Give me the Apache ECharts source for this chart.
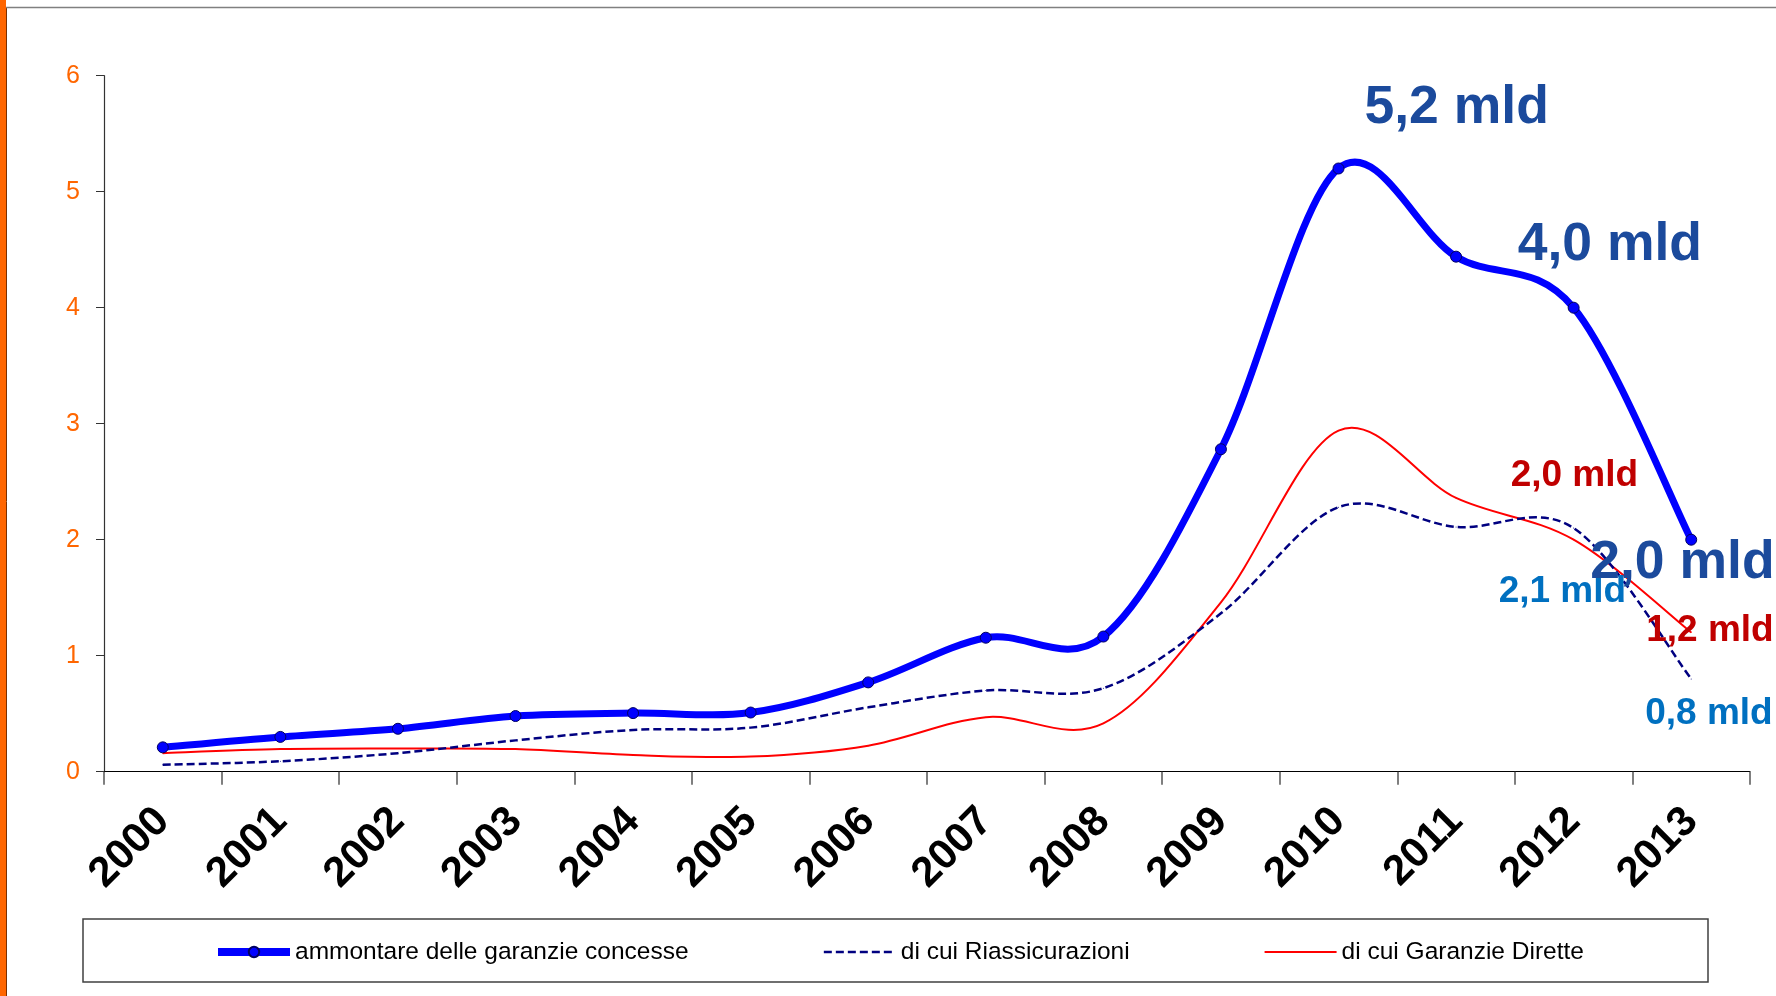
<!DOCTYPE html>
<html>
<head>
<meta charset="utf-8">
<title>Garanzie concesse 2000-2013</title>
<script src="https://cdn.jsdelivr.net/npm/echarts@6/dist/echarts.min.js"></script>
<style>
  html, body { margin: 0; padding: 0; background: #fff; }
  #chart { width: 1776px; height: 996px; }
</style>
</head>
<body>
<div id="chart"></div>
<script>
// Years on the category axis
const years = ['2000', '2001', '2002', '2003', '2004', '2005', '2006',
               '2007', '2008', '2009', '2010', '2011', '2012', '2013'];

// Amounts in billions of euro
const totalGuarantees = [0.21, 0.30, 0.37, 0.48, 0.505, 0.51, 0.77,
                         1.155, 1.165, 2.78, 5.2, 4.44, 4.0, 2.0];
const reinsurance     = [0.06, 0.09, 0.16, 0.27, 0.36, 0.38, 0.555,
                         0.70, 0.72, 1.365, 2.28, 2.11, 2.1, 0.8];
const directGuarantees = [0.16, 0.195, 0.2, 0.195, 0.144, 0.13, 0.224,
                          0.47, 0.417, 1.46, 2.94, 2.36, 2.0, 1.2];

const seriesNames = ['ammontare delle garanzie concesse',
                     'di cui Riassicurazioni',
                     'di cui Garanzie Dirette'];

const yTicks = [0, 1, 2, 3, 4, 5, 6];

const FONT = "'Liberation Sans', Arial, Helvetica, sans-serif";

// Value call-outs: which point gets a label, and how it is placed/styled
const callouts = {
  total:  [{ i: 10, dx: 26,  dy: -60, size: 53.5, color: '#1B4A9C' },
           { i: 12, dx: -56, dy: -62, size: 53.5, color: '#1B4A9C' },
           { i: 13, dx: -101, dy: 24, size: 53.5, color: '#1B4A9C' }],
  reins:  [{ i: 12, dx: -75, dy: 64,  size: 37, color: '#0070C0' },
           { i: 13, dx: -46, dy: 35,  size: 37, color: '#0070C0' }],
  direct: [{ i: 12, dx: -63, dy: -64, size: 37, color: '#C00000' },
           { i: 13, dx: -45, dy: -2,  size: 37, color: '#C00000' }]
};

const fmtMld = v => v.toFixed(1).replace('.', ',') + ' mld';

function withCallouts(values, list) {
  return values.map((v, idx) => {
    const c = list.find(o => o.i === idx);
    if (!c) return v;
    return {
      value: v,
      label: {
        show: true,
        position: 'inside',
        align: 'left',
        verticalAlign: 'middle',
        offset: [c.dx, c.dy],
        formatter: p => fmtMld(p.value),
        fontFamily: FONT,
        fontWeight: 'bold',
        fontSize: c.size,
        color: c.color
      }
    };
  });
}

// Smoothed curve through the points (cardinal spline, tangent = (next - prev) / 2),
// converted to pixel space with the chart's own axes.
function smoothCurveSeries(name, values, style, z) {
  return {
    name: name,
    type: 'custom',
    silent: true,
    z: z,
    clip: false,
    data: values.map((v, i) => [i, v]),
    encode: { x: 0, y: 1 },
    renderItem: function (params, api) {
      if (params.dataIndex !== 0) return null;
      const pts = values.map((v, i) => api.coord([i, v]));
      const k = 1 / 6;
      let d = 'M' + pts[0][0] + ',' + pts[0][1];
      for (let i = 0; i < pts.length - 1; i++) {
        const p0 = pts[Math.max(i - 1, 0)];
        const p1 = pts[i];
        const p2 = pts[i + 1];
        const p3 = pts[Math.min(i + 2, pts.length - 1)];
        const c1x = p1[0] + (p2[0] - p0[0]) * k;
        const c1y = p1[1] + (p2[1] - p0[1]) * k;
        const c2x = p2[0] - (p3[0] - p1[0]) * k;
        const c2y = p2[1] - (p3[1] - p1[1]) * k;
        d += ' C' + c1x + ',' + c1y + ' ' + c2x + ',' + c2y + ' ' + p2[0] + ',' + p2[1];
      }
      return {
        type: 'path',
        shape: { pathData: d },
        style: Object.assign({ fill: null }, style)
      };
    }
  };
}

const chart = echarts.init(document.getElementById('chart'), null, { renderer: 'canvas' });

chart.setOption({
  animation: false,
  backgroundColor: '#ffffff',
  grid: { left: 104, right: 26, top: 75.7, bottom: 224.3, containLabel: false },
  graphic: [
    // orange strip on the left edge
    { type: 'rect', shape: { x: 0, y: 0, width: 6, height: 996 },
      style: { fill: '#FF6600' }, silent: true },
    { type: 'line', shape: { x1: 6.5, y1: 7, x2: 6.5, y2: 996 },
      style: { stroke: '#7A3000', lineWidth: 1 }, silent: true },
    // thin rule at the top
    { type: 'line', shape: { x1: 6, y1: 7.5, x2: 1776, y2: 7.5 },
      style: { stroke: '#808080', lineWidth: 1.5 }, silent: true },
    // frame around the legend
    { type: 'rect', shape: { x: 83, y: 919, width: 1625, height: 63 },
      style: { fill: 'none', stroke: '#404040', lineWidth: 1.5 }, silent: true, z: -1 }
  ],
  legend: {
    left: 214,
    top: 939.5,
    padding: 0,
    itemWidth: 72,
    itemHeight: 13,
    itemGap: 134,
    textStyle: { fontFamily: FONT, fontSize: 24.5, color: '#000' },
    data: [
      { name: seriesNames[0], lineStyle: { width: 8 } },
      { name: seriesNames[1], itemStyle: { opacity: 0 }, lineStyle: { width: 2.5 } },
      { name: seriesNames[2], itemStyle: { opacity: 0 }, lineStyle: { width: 2 } }
    ]
  },
  xAxis: {
    type: 'category',
    data: years,
    boundaryGap: true,
    axisLine: { show: true, lineStyle: { color: '#000', width: 1.2 } },
    axisTick: { show: true, length: 13, lineStyle: { color: '#555', width: 1.5 } },
    axisLabel: {
      rotate: 45,
      margin: 43,
      interval: 0,
      fontFamily: FONT,
      fontWeight: 'bold',
      fontSize: 42,
      color: '#000'
    },
    splitLine: { show: false }
  },
  yAxis: {
    type: 'value',
    min: yTicks[0],
    max: yTicks[yTicks.length - 1],
    interval: 1,
    axisLine: { show: true, lineStyle: { color: '#333', width: 1.2 } },
    axisTick: { show: true, length: 8, lineStyle: { color: '#333' } },
    axisLabel: {
      margin: 24,
      fontFamily: FONT,
      fontSize: 25,
      color: '#FF6600'
    },
    splitLine: { show: false }
  },
  series: [
    // Point series: carry the legend entries, markers and value labels
    {
      name: seriesNames[0],
      type: 'line',
      z: 5,
      symbol: 'circle',
      symbolSize: 11,
      itemStyle: { color: '#0000FF', borderColor: '#000060', borderWidth: 1 },
      lineStyle: { color: '#0000FF', width: 0 },
      data: withCallouts(totalGuarantees, callouts.total)
    },
    {
      name: seriesNames[1],
      type: 'line',
      z: 4,
      symbol: 'circle',
      symbolSize: 1,
      itemStyle: { color: '#000080' },
      lineStyle: { color: '#000080', width: 0, type: [8, 4] },
      data: withCallouts(reinsurance, callouts.reins)
    },
    {
      name: seriesNames[2],
      type: 'line',
      z: 4,
      symbol: 'circle',
      symbolSize: 1,
      itemStyle: { color: '#FF0000' },
      lineStyle: { color: '#FF0000', width: 0 },
      data: withCallouts(directGuarantees, callouts.direct)
    },
    // Smoothed curves
    smoothCurveSeries(seriesNames[2], directGuarantees,
      { stroke: '#FF0000', lineWidth: 2 }, 2),
    smoothCurveSeries(seriesNames[1], reinsurance,
      { stroke: '#000080', lineWidth: 2.5, lineDash: [8, 4] }, 2),
    smoothCurveSeries(seriesNames[0], totalGuarantees,
      { stroke: '#0000FF', lineWidth: 7, lineJoin: 'round', lineCap: 'round' }, 3)
  ]
});
</script>
</body>
</html>
